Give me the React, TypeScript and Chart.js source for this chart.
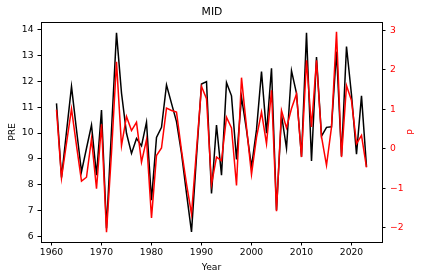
import React, { useEffect, useRef } from 'react';
import { Chart, registerables } from 'chart.js';

Chart.register(...registerables);

const years = [
  1961, 1962, 1963, 1964, 1965, 1966, 1967, 1968, 1969, 1970,
  1971, 1972, 1973, 1974, 1975, 1976, 1977, 1978, 1979, 1980,
  1981, 1982, 1983, 1984, 1985, 1986, 1987, 1988, 1989, 1990,
  1991, 1992, 1993, 1994, 1995, 1996, 1997, 1998, 1999, 2000,
  2001, 2002, 2003, 2004, 2005, 2006, 2007, 2008, 2009, 2010,
  2011, 2012, 2013, 2014, 2015, 2016, 2017, 2018, 2019, 2020,
  2021, 2022, 2023,
];

const preValues = [
  11.15, 8.28, 10.05, 11.8, 10.12, 8.5, 9.41, 10.31, 8.37, 10.89,
  6.31, 10.12, 13.88, 11.55, 9.99, 9.21, 9.79, 9.5, 10.42, 7.4,
  9.83, 10.22, 11.86, 11.15, 10.44, 9.21, 7.66, 6.17, 9.08, 11.9,
  11.99, 7.66, 10.31, 8.37, 11.95, 11.44, 8.98, 11.39, 10.12, 8.69,
  10.12, 12.38, 9.99, 12.51, 7.01, 10.7, 9.41, 12.41, 11.54, 9.08,
  13.88, 8.92, 12.94, 9.88, 10.22, 10.24, 13.16, 9.11, 13.35, 11.48,
  9.18, 11.44, 8.69,
];

const pValues = [
  0.99, -0.74, 0.14, 1.01, 0.08, -0.82, -0.72, 0.25, -1.01, 0.62,
  -2.11, -0.1, 2.2, 0.08, 0.82, 0.46, 0.67, -0.34, 0.23, -1.75,
  -0.17, 0.02, 1.03, 0.97, 0.93, -0.04, -0.89, -1.65, -0.03, 1.58,
  1.27, -0.9, -0.21, -0.3, 0.8, 0.53, -0.93, 1.8, 0.55, -0.65,
  0.29, 0.93, 0.13, 1.48, -1.58, 0.97, 0.53, 1.02, 1.39, -0.21,
  2.24, 0.55, 2.24, 0.31, -0.42, 0.55, 2.96, -0.21, 1.6, 1.22,
  0.13, 0.34, -0.47,
];

const xTicks = [1960, 1970, 1980, 1990, 2000, 2010, 2020];
const preTicks = [6, 7, 8, 9, 10, 11, 12, 13, 14];
const pTicks = [-2, -1, 0, 1, 2, 3];

const FONT = 'DejaVu Sans';
const tickFont = { family: FONT, size: 9.2 };

const framePlugin = {
  id: 'frame',
  afterDatasetsDraw(chart: any) {
    const { ctx, chartArea: a } = chart;
    ctx.save();
    ctx.strokeStyle = '#000';
    ctx.lineWidth = 1;
    const l = Math.round(a.left) + 0.5;
    const t = Math.round(a.top) + 0.5;
    const r = Math.round(a.right) + 0.5;
    const b = Math.round(a.bottom) + 0.5;
    ctx.strokeRect(l, t, r - l, b - t);
    ctx.restore();
  },
};

const rightTitlePlugin = {
  id: 'rightTitle',
  afterDraw(chart: any) {
    const { ctx, chartArea: a } = chart;
    const s = chart.scales.p;
    ctx.save();
    ctx.fillStyle = '#ff0000';
    ctx.font = `9.2px "${FONT}"`;
    ctx.textAlign = 'center';
    ctx.textBaseline = 'middle';
    ctx.translate(s.right - 12.3, (a.top + a.bottom) / 2);
    ctx.rotate(-Math.PI / 2);
    ctx.fillText('P', 0, 0);
    ctx.restore();
  },
};

export default function App() {
  const ref = useRef<HTMLCanvasElement | null>(null);

  useEffect(() => {
    document.body.style.margin = '0';
    if (!ref.current) return;
    const chart = new Chart(ref.current, {
      type: 'line',
      data: {
        datasets: [
          {
            label: 'P',
            data: years.map((yr, i) => ({ x: yr, y: pValues[i] })),
            yAxisID: 'p',
            borderColor: '#ff0000',
            backgroundColor: '#ff0000',
            borderWidth: 1.5,
            pointRadius: 0,
            tension: 0,
            fill: false,
          },
          {
            label: 'PRE',
            data: years.map((yr, i) => ({ x: yr, y: preValues[i] })),
            yAxisID: 'pre',
            borderColor: '#000000',
            backgroundColor: '#000000',
            borderWidth: 1.5,
            pointRadius: 0,
            tension: 0,
            fill: false,
          },
        ],
      },
      options: {
        animation: false,
        responsive: false,
        devicePixelRatio: 1,
        layout: { padding: 0 },
        plugins: {
          legend: { display: false },
          tooltip: { enabled: false },
          title: {
            display: true,
            text: 'MID',
            color: '#000',
            font: { family: FONT, size: 10.8, weight: 'normal' },
            padding: { top: 6.2, bottom: 2.84 },
          },
        },
        scales: {
          x: {
            type: 'linear',
            min: 1957.9,
            max: 2026.1,
            afterBuildTicks: (s: any) => {
              s.ticks = xTicks.map((v) => ({ value: v }));
            },
            afterFit: (s: any) => {
              s.height = 38;
            },
            ticks: {
              callback: (v: any) => String(v),
              color: '#000',
              font: tickFont,
              padding: 2,
              maxRotation: 0,
              autoSkip: false,
            },
            grid: {
              drawOnChartArea: false,
              drawTicks: true,
              tickLength: 3.5,
              color: '#000',
            },
            border: { display: false },
            title: {
              display: true,
              text: 'Year',
              color: '#000',
              font: tickFont,
              padding: { top: 0, bottom: 6.5 },
            },
          },
          pre: {
            type: 'linear',
            position: 'left',
            min: 5.78,
            max: 14.3,
            afterBuildTicks: (s: any) => {
              s.ticks = preTicks.map((v) => ({ value: v }));
            },
            afterFit: (s: any) => {
              s.width = 41;
            },
            ticks: {
              callback: (v: any) => String(v),
              color: '#000',
              font: tickFont,
              padding: 4,
            },
            grid: {
              drawOnChartArea: false,
              drawTicks: true,
              tickLength: 3.5,
              color: '#000',
            },
            border: { display: false },
            title: {
              display: true,
              text: 'PRE',
              color: '#000',
              font: tickFont,
              padding: { top: 6.8, bottom: 0 },
            },
          },
          p: {
            type: 'linear',
            position: 'right',
            min: -2.36,
            max: 3.21,
            afterBuildTicks: (s: any) => {
              s.ticks = pTicks.map((v) => ({ value: v }));
            },
            afterFit: (s: any) => {
              s.width = 42;
            },
            ticks: {
              callback: (v: any) => (v < 0 ? '\u2212' + Math.abs(v) : String(v)),
              color: '#ff0000',
              font: tickFont,
              padding: 4.5,
            },
            grid: {
              drawOnChartArea: false,
              drawTicks: true,
              tickLength: 3.5,
              color: '#000',
            },
            border: { display: false },
          },
        },
      } as any,
      plugins: [framePlugin, rightTitlePlugin],
    });
    return () => chart.destroy();
  }, []);

  return (
    <div style={{ width: 424, height: 280 }}>
      <canvas ref={ref} width={424} height={280} style={{ display: 'block' }} />
    </div>
  );
}
